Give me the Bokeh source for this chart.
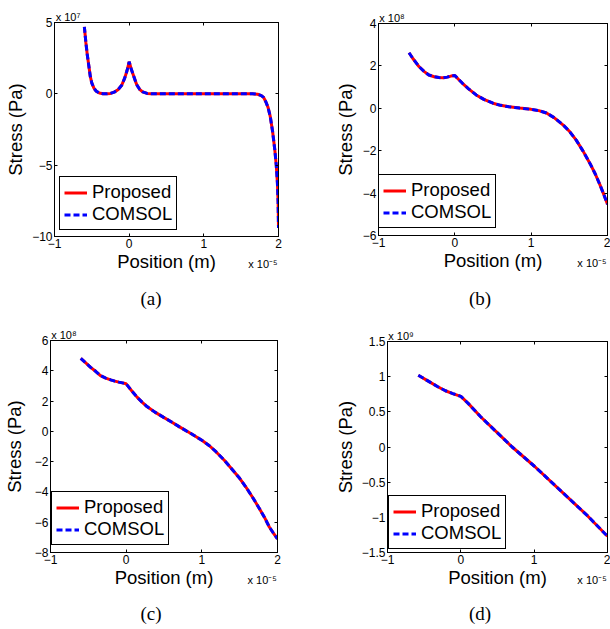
from bokeh.plotting import figure
from bokeh.models import Range1d, FixedTicker, LinearAxis, Div
from bokeh.layouts import column, row
from bokeh.embed import file_html
from bokeh.resources import INLINE

# ---------------- data (x in units of 1e-5 m, y in units of the axis exponent) -------------
x_ticks = [-1, 0, 1, 2]
x_tick_labels = ["\u22121", "0", "1", "2"]

# (a)  y x 1e7
a_x = [-0.60, -0.58, -0.56, -0.54, -0.52, -0.50, -0.47, -0.44, -0.40, -0.35, -0.30, -0.25,
       -0.20, -0.15, -0.10, -0.06, -0.03, 0.00, 0.03, 0.06, 0.10, 0.14, 0.18, 0.24, 0.30,
       0.50, 1.00, 1.50, 1.65, 1.72, 1.77, 1.80, 1.83, 1.86, 1.89, 1.92, 1.95, 1.97, 1.985,
       1.995, 2.00]
a_proposed = [4.70, 3.60, 2.70, 1.95, 1.20, 0.75, 0.38, 0.18, 0.06, 0.01, 0.00, 0.03,
              0.12, 0.28, 0.60, 1.10, 1.60, 2.25, 1.70, 1.25, 0.65, 0.32, 0.14, 0.03, 0.01,
              0.00, 0.00, 0.00, 0.00, -0.03, -0.12, -0.25, -0.55, -0.95, -1.60, -2.60, -3.90,
              -5.00, -6.20, -7.60, -9.40]
a_comsol = list(a_proposed)
a_y_ticks = [-10, -5, 0, 5]
a_y_tick_labels = ["\u221210", "\u22125", "0", "5"]

# (b)  y x 1e8
b_x = [-0.60, -0.55, -0.47, -0.40, -0.34, -0.27, -0.21, -0.15, -0.10, -0.05, 0.00, 0.05,
       0.10, 0.18, 0.28, 0.38, 0.50, 0.60, 0.71, 0.85, 1.00, 1.10, 1.20, 1.30, 1.42, 1.50,
       1.59, 1.68, 1.77, 1.84, 1.90, 1.95, 2.00]
b_proposed = [2.62, 2.35, 1.97, 1.73, 1.57, 1.49, 1.45, 1.44, 1.47, 1.52, 1.55, 1.36,
              1.18, 0.92, 0.63, 0.42, 0.24, 0.14, 0.07, 0.01, -0.05, -0.11, -0.22, -0.44,
              -0.79, -1.08, -1.50, -2.02, -2.60, -3.10, -3.60, -4.05, -4.53]
b_comsol = list(b_proposed)
b_y_ticks = [-6, -4, -2, 0, 2, 4]
b_y_tick_labels = ["\u22126", "\u22124", "\u22122", "0", "2", "4"]

# (c)  y x 1e8
c_x = [-0.60, -0.53, -0.47, -0.40, -0.34, -0.27, -0.205, -0.15, -0.096, -0.05, 0.00, 0.07,
       0.144, 0.21, 0.275, 0.38, 0.49, 0.60, 0.71, 0.85, 1.00, 1.10, 1.19, 1.30, 1.41, 1.50,
       1.58, 1.67, 1.76, 1.83, 1.89, 1.95, 2.00]
c_proposed = [4.82, 4.50, 4.23, 3.95, 3.68, 3.52, 3.40, 3.32, 3.25, 3.20, 3.14, 2.70,
              2.26, 1.93, 1.64, 1.27, 0.94, 0.62, 0.28, -0.13, -0.59, -0.95, -1.36, -1.92,
              -2.57, -3.10, -3.66, -4.35, -5.09, -5.70, -6.30, -6.75, -7.10]
c_comsol = list(c_proposed)
c_y_ticks = [-8, -6, -4, -2, 0, 2, 4, 6]
c_y_tick_labels = ["\u22128", "\u22126", "\u22124", "\u22122", "0", "2", "4", "6"]

# (d)  y x 1e9
d_x = [-0.58, -0.45, -0.32, -0.21, -0.11, 0.00, 0.10, 0.27, 0.50, 0.70, 1.00, 1.36, 1.73, 2.00]
d_proposed = [1.02, 0.94, 0.86, 0.80, 0.76, 0.72, 0.62, 0.43, 0.20, 0.00, -0.27, -0.62,
              -0.98, -1.27]
d_comsol = list(d_proposed)
d_y_ticks = [-1.5, -1, -0.5, 0, 0.5, 1, 1.5]
d_y_tick_labels = ["\u22121.5", "\u22121", "\u22120.5", "0", "0.5", "1", "1.5"]

series_names = ["Proposed", "COMSOL"]
y_exponent_texts = ["x 10\u2077", "x 10\u2078", "x 10\u2078", "x 10\u2079"]
x_exponent_text = "x 10\u207b\u2075"
captions = ["(a)", "(b)", "(c)", "(d)"]

SANS = "Liberation Sans"
SERIF = "Liberation Serif"


def panel(xs, y1, y2, yticks, ylabels, ylim, yexp, width, height, left, right, top, bottom,
          ylab_standoff, legend_loc):
    p = figure(width=width, height=height, output_backend="svg", toolbar_location=None,
               title=None, x_range=Range1d(-1, 2), y_range=Range1d(*ylim),
               min_border_left=left, min_border_right=right,
               min_border_top=top, min_border_bottom=bottom,
               background_fill_color="white", border_fill_color="white")
    p.grid.visible = False
    p.outline_line_color = "black"
    p.outline_line_width = 1
    p.outline_line_alpha = 1
    fw = width - left - right

    p.line(xs, y1, color="#ff0000", line_width=3, legend_label=series_names[0])
    p.line(xs, y2, color="#0000ff", line_width=3, line_dash="6 3", legend_label=series_names[1])

    for ax, ticks, labels in ((p.xaxis[0], x_ticks, x_tick_labels), (p.yaxis[0], yticks, ylabels)):
        ax.ticker = FixedTicker(ticks=ticks)
        ax.major_label_overrides = {t: l for t, l in zip(ticks, labels)}
        ax.minor_tick_line_color = None
        ax.major_tick_in = 3
        ax.major_tick_out = 0
        ax.major_label_standoff = 2
        ax.major_label_text_font = SANS
        ax.major_label_text_font_size = "12px"
        ax.major_label_text_color = "black"
        ax.axis_line_color = "black"
        ax.major_tick_line_color = "black"
        ax.axis_label_text_font = SANS
        ax.axis_label_text_font_size = "18.5px"
        ax.axis_label_text_font_style = "normal"
        ax.axis_label_text_color = "black"
    p.xaxis[0].axis_label = None
    p.yaxis[0].axis_label = "Stress (Pa)"
    p.yaxis[0].axis_label_standoff = ylab_standoff

    # second bottom axis: carries "Position (m)" and the x exponent on one line
    x_exp_pos = round(2 - 15.5 * 3 / fw, 3)
    xlab = LinearAxis(ticker=FixedTicker(ticks=[x_exp_pos]),
                      major_label_overrides={x_exp_pos: x_exponent_text},
                      major_label_text_font=SANS, major_label_text_font_size="11px",
                      major_label_text_color="black", major_label_standoff=1,
                      major_tick_line_color=None, minor_tick_line_color=None,
                      axis_line_color=None, axis_label="Position (m)",
                      axis_label_text_font=SANS, axis_label_text_font_size="18.5px",
                      axis_label_text_font_style="normal", axis_label_text_color="black",
                      axis_label_standoff=-22)
    p.add_layout(xlab, "below")

    # top axis: inner tick marks (as minor ticks) and the y exponent label
    y_exp_pos = round(-1 + 13.5 * 3 / fw, 3)
    top_ax = LinearAxis(ticker=FixedTicker(ticks=[y_exp_pos], minor_ticks=x_ticks),
                        major_label_overrides={y_exp_pos: yexp},
                        major_label_text_font=SANS, major_label_text_font_size="11px",
                        major_label_text_color="black", major_label_standoff=0,
                        major_tick_line_color=None, major_tick_in=0, major_tick_out=0,
                        minor_tick_in=3, minor_tick_out=0, minor_tick_line_color="black",
                        axis_line_color="black")
    p.add_layout(top_ax, "above")

    # right axis: inner tick marks only
    right_ax = LinearAxis(ticker=FixedTicker(ticks=[], minor_ticks=yticks),
                          major_label_standoff=0, major_tick_line_color=None,
                          major_tick_in=0, major_tick_out=0,
                          minor_tick_in=3, minor_tick_out=0, minor_tick_line_color="black",
                          axis_line_color="black")
    p.add_layout(right_ax, "right")

    lg = p.legend[0]
    lg.location = legend_loc
    lg.border_line_color = "black"
    lg.border_line_width = 1
    lg.border_line_alpha = 1
    lg.background_fill_color = "white"
    lg.background_fill_alpha = 1
    lg.label_text_font = SANS
    lg.label_text_font_size = "18.5px"
    lg.label_text_color = "black"
    lg.glyph_width = 23
    lg.glyph_height = 19
    lg.label_height = 19
    lg.label_standoff = 5
    lg.padding = 4
    lg.spacing = 0
    lg.margin = 0
    return p


def caption_div(text, center_x, width):
    html = ('<div style="width:60px;margin-left:%dpx;text-align:center;'
            'font-family:\'Liberation Serif\';font-size:19px;line-height:28px;color:black">%s</div>'
            % (center_x - 30, text))
    return Div(text=html, width=width, height=28, margin=0)


pa = panel(a_x, a_proposed, a_comsol, a_y_ticks, a_y_tick_labels, (-10, 5), y_exponent_texts[0],
           305, 285, 54, 27, 22, 49, 3, (5, 6))
pb = panel(b_x, b_proposed, b_comsol, b_y_ticks, b_y_tick_labels, (-6, 4), y_exponent_texts[1],
           305, 285, 73, 3, 23, 50, 4, (0, 7))
pc = panel(c_x, c_proposed, c_comsol, c_y_ticks, c_y_tick_labels, (-8, 6), y_exponent_texts[2],
           305, 287, 48, 28, 27, 48, 7, (1, 7))
pd = panel(d_x, d_proposed, d_comsol, d_y_ticks, d_y_tick_labels, (-1.5, 1.5), y_exponent_texts[3],
           305, 287, 82, 3, 28, 48, 3, (1, 3))

layout = column(
    row(column(pa, caption_div(captions[0], 151, 305)),
        column(pb, caption_div(captions[1], 175, 305))),
    row(column(pc, caption_div(captions[2], 151, 305)),
        column(pd, caption_div(captions[3], 175, 305))),
)
open("out.html", "w").write(file_html(layout, INLINE))
